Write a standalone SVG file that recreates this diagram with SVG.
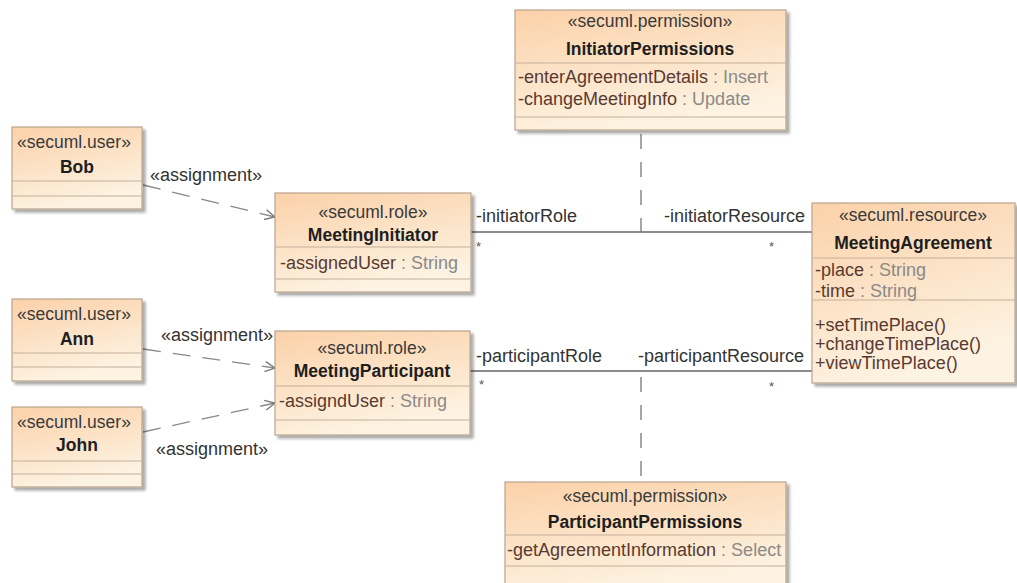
<svg xmlns="http://www.w3.org/2000/svg" width="1017" height="583" viewBox="0 0 1017 583">
  <defs>
    <linearGradient id="boxFill" x1="0" y1="0" x2="0.35" y2="1">
      <stop offset="0" stop-color="#fbd1a9"/>
      <stop offset="1" stop-color="#fdf3e2"/>
    </linearGradient>
    <marker id="openArrow" viewBox="0 0 12 12" refX="11" refY="6" markerWidth="12" markerHeight="12" markerUnits="userSpaceOnUse" orient="auto">
      <path d="M1,1 L11,6 L1,11" fill="none" stroke="#777" stroke-width="1.3"/>
    </marker>
    <filter id="shadow" x="-5%" y="-5%" width="115%" height="115%">
      <feGaussianBlur in="SourceAlpha" stdDeviation="1.5"/>
      <feOffset dx="3" dy="3" result="b"/>
      <feComponentTransfer><feFuncA type="linear" slope="0.35"/></feComponentTransfer>
      <feMerge><feMergeNode/><feMergeNode in="SourceGraphic"/></feMerge>
    </filter>
  </defs>
  <style>
    text { font-family: "Liberation Sans", Arial, sans-serif; font-size: 18px; fill: #333; }
    .box { fill: url(#boxFill); stroke: #b9a58e; stroke-width: 1.2; filter: url(#shadow); }
    .sep { stroke: #c4b09a; stroke-width: 1.2; }
    .st { text-anchor: middle; fill: #3a3a3a; font-size: 17.5px; }
    .nm { text-anchor: middle; font-weight: bold; fill: #1e1e1e; font-size: 17.5px; }
    .at { fill: #5a3a30; }
    .ty { fill: #8a8a8a; }
    .lbl { fill: #333; }
    .mult { fill: #555; font-size: 13px; }
    .assoc { stroke: #666; stroke-width: 1.3; fill: none; }
    .dep { stroke: #888; stroke-width: 1.3; fill: none; stroke-dasharray: 18 12; }
    .perm { stroke: #777; stroke-width: 1.3; fill: none; stroke-dasharray: 15 13; }
  </style>

  <!-- associations, permission links and assignment dependencies -->
  <g id="connectors">
    <line class="assoc" x1="471" y1="232" x2="812" y2="232"/>
    <line class="assoc" x1="470" y1="371" x2="812" y2="371"/>
    <line class="perm" x1="641" y1="134" x2="641" y2="232"/>
    <line class="perm" x1="641" y1="377" x2="641" y2="482"/>
    <line class="dep" x1="143" y1="185" x2="275" y2="217" marker-end="url(#openArrow)"/>
    <line class="dep" x1="143" y1="349" x2="275" y2="368" marker-end="url(#openArrow)"/>
    <line class="dep" x1="143" y1="432" x2="275" y2="403" marker-end="url(#openArrow)"/>
    <text class="lbl" x="150" y="181">«assignment»</text>
    <text class="lbl" x="161" y="341">«assignment»</text>
    <text class="lbl" x="156" y="455">«assignment»</text>
    <text class="lbl" x="476" y="222" font-size="17">-initiatorRole</text>
    <text class="lbl" x="664" y="222">-initiatorResource</text>
    <text class="mult" x="476" y="251">*</text>
    <text class="mult" x="769" y="251">*</text>
    <text class="lbl" x="476" y="362">-participantRole</text>
    <text class="lbl" x="638" y="362">-participantResource</text>
    <text class="mult" x="479" y="389">*</text>
    <text class="mult" x="769" y="391">*</text>
  </g>

  <g id="bob">
    <rect class="box" x="12" y="127" width="130" height="82"/>
    <line class="sep" x1="12" y1="181" x2="142" y2="181"/>
    <line class="sep" x1="12" y1="196" x2="142" y2="196"/>
    <text class="st" x="74" y="148">«secuml.user»</text>
    <text class="nm" x="77" y="173">Bob</text>
  </g>

  <g id="ann">
    <rect class="box" x="12" y="299" width="130" height="82"/>
    <line class="sep" x1="12" y1="353" x2="142" y2="353"/>
    <line class="sep" x1="12" y1="367" x2="142" y2="367"/>
    <text class="st" x="74" y="320">«secuml.user»</text>
    <text class="nm" x="77" y="345">Ann</text>
  </g>

  <g id="john">
    <rect class="box" x="12" y="407" width="130" height="80"/>
    <line class="sep" x1="12" y1="461" x2="142" y2="461"/>
    <line class="sep" x1="12" y1="474" x2="142" y2="474"/>
    <text class="st" x="74" y="428">«secuml.user»</text>
    <text class="nm" x="77" y="451">John</text>
  </g>

  <g id="meetingInitiator">
    <rect class="box" x="275" y="193" width="196" height="99"/>
    <line class="sep" x1="275" y1="247" x2="471" y2="247"/>
    <line class="sep" x1="275" y1="279" x2="471" y2="279"/>
    <text class="st" x="373" y="218">«secuml.role»</text>
    <text class="nm" x="373" y="241">MeetingInitiator</text>
    <text x="280" y="269"><tspan class="at">-assignedUser</tspan><tspan class="ty"> : String</tspan></text>
  </g>

  <g id="meetingParticipant">
    <rect class="box" x="275" y="331" width="195" height="104"/>
    <line class="sep" x1="275" y1="386" x2="470" y2="386"/>
    <line class="sep" x1="275" y1="420" x2="470" y2="420"/>
    <text class="st" x="372" y="354">«secuml.role»</text>
    <text class="nm" x="372" y="377">MeetingParticipant</text>
    <text x="279" y="407"><tspan class="at">-assigndUser</tspan><tspan class="ty"> : String</tspan></text>
  </g>

  <g id="initiatorPermissions">
    <rect class="box" x="515" y="10" width="271" height="120"/>
    <line class="sep" x1="515" y1="63" x2="786" y2="63"/>
    <line class="sep" x1="515" y1="117" x2="786" y2="117"/>
    <text class="st" x="650" y="27">«secuml.permission»</text>
    <text class="nm" x="650" y="55">InitiatorPermissions</text>
    <text x="518" y="83"><tspan class="at">-enterAgreementDetails</tspan><tspan class="ty"> : Insert</tspan></text>
    <text x="518" y="105"><tspan class="at">-changeMeetingInfo</tspan><tspan class="ty"> : Update</tspan></text>
  </g>

  <g id="meetingAgreement">
    <rect class="box" x="812" y="203" width="203" height="180"/>
    <line class="sep" x1="812" y1="258" x2="1015" y2="258"/>
    <line class="sep" x1="812" y1="300" x2="1015" y2="300"/>
    <text class="st" x="913" y="221">«secuml.resource»</text>
    <text class="nm" x="913" y="249">MeetingAgreement</text>
    <text x="815" y="276"><tspan class="at">-place</tspan><tspan class="ty"> : String</tspan></text>
    <text x="815" y="297"><tspan class="at">-time</tspan><tspan class="ty"> : String</tspan></text>
    <text class="at" x="815" y="331">+setTimePlace()</text>
    <text class="at" x="815" y="350">+changeTimePlace()</text>
    <text class="at" x="815" y="369">+viewTimePlace()</text>
  </g>

  <g id="participantPermissions">
    <rect class="box" x="505" y="482" width="281" height="112"/>
    <line class="sep" x1="505" y1="535" x2="786" y2="535"/>
    <line class="sep" x1="505" y1="566" x2="786" y2="566"/>
    <text class="st" x="645" y="502">«secuml.permission»</text>
    <text class="nm" x="645" y="528">ParticipantPermissions</text>
    <text x="507" y="556"><tspan class="at">-getAgreementInformation</tspan><tspan class="ty"> : Select</tspan></text>
  </g>
</svg>
